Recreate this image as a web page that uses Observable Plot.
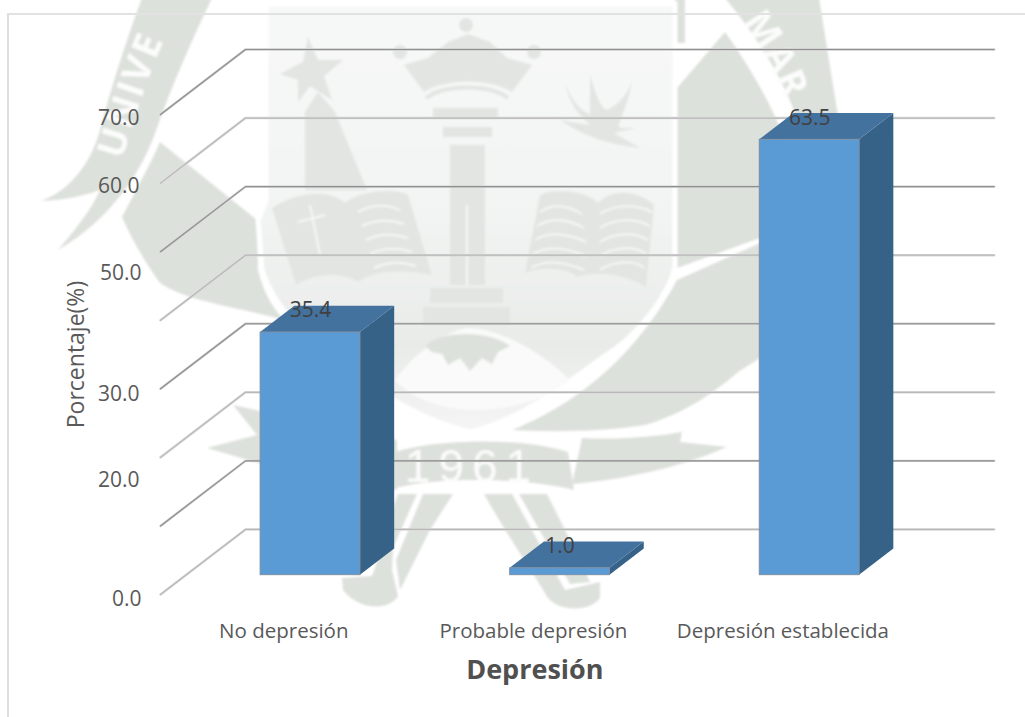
<!DOCTYPE html>
<html lang="es">
<head>
<meta charset="utf-8">
<title>Depresión</title>
<script src="https://cdn.jsdelivr.net/npm/d3@7"></script>
<script src="https://cdn.jsdelivr.net/npm/@observablehq/plot@0.6"></script>
<style>
  html, body { margin: 0; padding: 0; background: #fff; overflow: hidden; }
  #page { position: relative; width: 1025px; height: 717px; overflow: hidden; }
  #seal { position: absolute; left: 0; top: 0; }
  #frame { position: absolute; left: 7px; top: 13px; width: 1100px; height: 800px;
           border-left: 2px solid #dedede; border-top: 2px solid #e2e2e2; }
  #chart { position: absolute; left: 0; top: 0; }
</style>
</head>
<body>
<div id="page">
  <!-- University seal printed behind the chart -->
  <svg id="seal" width="1025" height="717" viewBox="0 0 1025 717">
    <defs>
      <linearGradient id="shieldFill" x1="0" y1="0" x2="0" y2="1">
        <stop offset="0" stop-color="#f7f8f8"/>
        <stop offset="0.5" stop-color="#f2f4f3"/>
        <stop offset="0.8" stop-color="#e9ebe9"/>
        <stop offset="1" stop-color="#f4f5f4"/>
      </linearGradient>
      <filter id="soft"><feGaussianBlur stdDeviation="0.9"/></filter>
      <path id="arcLeft" d="M122 160 C136 112 152 64 172 22 L190 -10"/>
      <path id="arcRight" d="M742 22 C758 42 774 70 788 108 L806 170"/>
    </defs>
    <g filter="url(#soft)">
      <g fill="#dde1db">
        <!-- ribbon bands around the shield -->
        <path d="M41 201 C72 190 92 160 100 130 C112 85 128 35 142 -2 L212 -2 C192 40 172 85 157 128 C142 172 112 218 58 250 C80 224 92 208 100 190 C84 196 64 200 41 201Z"/>
        <path d="M725 -2 L819 -2 C826 40 832 80 838 115 L800 130 C790 90 760 40 725 -2Z"/>
        <rect x="675" y="-2" width="10" height="45"/>
        <!-- side panels -->
        <path d="M160 142 L257 220 L258 270 C264 295 275 312 290 326 L330 350 L277 318 C225 305 185 300 160 283 C145 262 132 240 122 217 C136 190 150 165 160 142Z"/>
        <path d="M677 88 L725 32 C745 60 770 100 785 140 L800 235 L760 238 L677 268Z"/>
        <path d="M677 280 L758 244 L800 240 L760 358 L738 372 C712 395 680 415 645 425 C600 432 550 432 512 430 C600 395 650 330 677 280Z"/>
        <!-- lower ribbon with the year -->
        <path d="M582 438 C620 440 660 436 682 432 L680 442 L727 447 C680 468 620 480 572 484Z"/>
        <path d="M233 405 L257 435 L207 448 L262 464 L397 490 L397 440 L300 420Z"/>
        <path d="M395 452 C430 440 520 436 568 452 L574 490 C530 478 440 476 395 488Z"/>
        <!-- crossed staves and their scrolls -->
        <path d="M398 494 L417 494 L393 548 L392 570 L398 596 C390 610 360 612 343 590 L342 578 L372 576 C382 550 388 520 398 494Z"/>
        <path d="M423 494 L453 494 L430 530 L400 590 L396 560Z"/>
        <path d="M484 494 L512 494 L565 590 L600 582 L600 598 C590 612 560 612 548 598 C528 565 504 530 484 494Z"/>
        <path d="M519 494 L547 494 L580 560 L590 582 L570 584Z"/>
      </g>
      <!-- shield -->
      <path d="M266 4 L675 4 L675 268 C668 295 640 335 602 358 C560 388 520 420 470 432 C420 420 360 385 320 346 C290 322 272 300 262 270 L258 220 L266 200Z" fill="url(#shieldFill)" stroke="#fff" stroke-width="5"/>
      <!-- white hill below the column -->
      <path d="M395 380 C420 345 455 328 470 328 C500 330 540 350 570 380 C520 420 430 420 395 380Z" fill="#f9faf9"/>
      <g fill="#e2e5e2">
        <!-- star and obelisk -->
        <path d="M308 37 L318 60 L343 60 L324 76 L332 100 L310 86 L298 102 L298 80 L280 74 L303 62Z"/>
        <path d="M305 190 L305 112 L318 92 L335 112 L367 190Z"/>
        <!-- open books -->
        <path d="M272 208 C300 190 330 190 345 203 C360 190 395 188 408 195 L432 275 C400 268 370 272 358 282 C340 270 310 275 296 285Z"/>
        <path d="M525 273 C540 266 570 268 577 277 C600 268 640 280 646 288 L654 205 C635 188 610 190 598 203 C585 190 555 188 540 195Z"/>
        <!-- crown and column -->
        <path d="M424 92 C445 78 490 78 512 92 L532 65 L507 58 L490 42 L468 34 L448 42 L428 58 L404 65Z"/>
        <path d="M426 98 C445 84 490 84 508 98" fill="none" stroke="#e2e5e2" stroke-width="4"/>
        <circle cx="466" cy="25" r="7"/><circle cx="400" cy="52" r="7"/><circle cx="534" cy="52" r="7"/>
        <rect x="433" y="108" width="65" height="10"/>
        <rect x="443" y="127" width="49" height="10"/>
        <rect x="450" y="145" width="35" height="140"/>
        <rect x="430" y="288" width="73" height="15"/>
        <rect x="423" y="307" width="87" height="18"/>
        <!-- bird -->
        <path d="M565 82 C572 105 585 112 590 115 L590 75 C596 95 600 108 607 110 C618 105 628 95 632 80 C628 110 615 125 620 128 L636 128 L614 133 L640 148 C615 145 590 140 560 120 C575 122 585 125 590 125 C575 112 568 98 565 82Z"/>
      </g>
      <!-- rays beneath the column -->
      <path d="M425 346 C440 330 490 330 510 346 L498 352 L492 364 L482 358 L470 371 L460 358 L448 365 L442 354 L432 352Z" fill="#dde1db"/>
      <g stroke="#f6f7f6" stroke-width="2" fill="none">
        <path d="M310 205 L320 255 M298 222 L325 215"/>
        <path d="M358 212 C375 203 388 205 400 210 M362 226 C378 218 392 220 404 224 M366 240 C382 232 396 234 408 238 M370 254 C386 246 400 248 412 252 M374 268 C390 260 404 262 416 266"/>
        <path d="M540 212 C552 204 566 204 582 214 M537 226 C550 218 566 218 584 228 M535 240 C548 232 564 232 586 242 M533 254 C546 246 562 246 586 256 M531 268 C544 260 560 260 584 270"/>
        <path d="M600 214 C615 204 636 204 652 212 M600 228 C615 218 636 218 650 226 M600 242 C615 232 636 232 648 240 M600 256 C615 246 636 246 646 254 M600 270 C615 260 636 260 644 268"/>
        <path d="M467 205 L467 285"/>
      </g>
      <g fill="#fbfcfb" font-family="'Open Sans'" font-weight="700">
        <text font-size="38" letter-spacing="2"><textPath href="#arcLeft">UNIVE</textPath></text>
        <text font-size="38" letter-spacing="1"><textPath href="#arcRight">MAR</textPath></text>
        <text x="472" y="482" font-family="'Liberation Sans'" font-size="46" font-weight="400" letter-spacing="8" text-anchor="middle">1961</text>
      </g>
    </g>
  </svg>
  <div id="frame"></div>
  <div id="chart"></div>
</div>
<script>
// Categories and percentages of the depression screening result
const categories = ["No depresión", "Probable depresión", "Depresión establecida"];
const percentages = [35.4, 1.0, 63.5];
const gridValues = [0, 10, 20, 30, 40, 50, 60, 70];
const labelledTicks = [70, 60, 50, 30, 20, 0];

// Oblique projection: one unit of depth moves a point this far along x and y
const depthX = 0.3405;
const depthY = 9.49;
const floorFront = 0.297;   // depth of the bar's front face
const floorBack = 0.7;      // depth of the bar's rear face
const halfBar = 0.2;        // half a bar's width, in category units
const xStart = -0.5;
const xEnd = 2.5;

const px = (i, depth) => i + depth * depthX;
const py = (v, depth) => v + depth * depthY;

const bars = categories.map((name, i) => ({name, i, value: percentages[i]}));

// Each grid line runs along the side wall and then across the back wall
const gridPoints = gridValues.flatMap((tick) => [
  {tick, x: px(xStart, 0), y: py(tick, 0)},
  {tick, x: px(xStart, 1), y: py(tick, 1)},
  {tick, x: px(xEnd, 1), y: py(tick, 1)}
]);
const darkerGrid = gridPoints.filter((d) => d.tick % 20 === 10);
const lighterGrid = gridPoints.filter((d) => d.tick % 20 !== 10);

// Top face of each bar, as an area between a front and a rear edge
const topFace = bars.flatMap((b) => [floorFront, floorBack].map((depth) => ({
  name: b.name,
  x1: px(b.i - halfBar, depth),
  x2: px(b.i + halfBar, depth),
  y: py(b.value, depth)
})));

// Right face of each bar, from its front edge to its rear edge
const sideFace = bars.flatMap((b) => [floorFront, floorBack].map((depth) => ({
  name: b.name,
  x: px(b.i + halfBar, depth),
  y1: py(0, depth),
  y2: py(b.value, depth)
})));

const textFont = "'Open Sans', sans-serif";
const tickColor = "#595959";

// Vertical offsets and padding of the percentage labels beside the wall
const labelDrop = {70: 3.5, 60: 3.5, 50: 22, 30: 5.5, 20: 22.5, 0: 4.5};
const labelPad = {70: 21, 60: 21, 50: 19, 30: 21, 20: 21, 0: 19};

const gridStroke = (data, stroke, strokeWidth) =>
  Plot.line(data, {x: "x", y: "y", z: "tick", stroke, strokeWidth, strokeLinejoin: "round"});

const chart = Plot.plot({
  width: 1025,
  height: 717,
  marginLeft: 160,
  marginRight: 31.3,
  marginTop: 49,
  marginBottom: 123,
  style: {background: "transparent", fontFamily: textFont},
  x: {type: "linear", domain: [xStart, px(xEnd, 1)], axis: null},
  y: {domain: [0, py(70, 1)], axis: null},
  marks: [
    gridStroke(lighterGrid, "#dadada", 2.6),
    gridStroke(lighterGrid, "#b8b8b8", 1.2),
    gridStroke(darkerGrid, "#cfcfcf", 2.4),
    gridStroke(darkerGrid, "#8f8f8f", 1.2),
    Plot.area(sideFace, {x1: "x", x2: "x", y1: "y1", y2: "y2", z: "name", fill: "#376287"}),
    Plot.area(topFace, {x1: "x1", x2: "x2", y1: "y", y2: "y", z: "name", fill: "#44729f"}),
    Plot.rect(bars, {
      x1: (d) => px(d.i - halfBar, floorFront),
      x2: (d) => px(d.i + halfBar, floorFront),
      y1: () => py(0, floorFront),
      y2: (d) => py(d.value, floorFront),
      fill: "#5b9bd5",
      stroke: "#7d8fa3",
      strokeWidth: 1
    }),
    Plot.text(bars, {
      x: (d) => px(d.i, floorFront),
      y: (d) => py(d.value, floorFront),
      text: (d) => d.value.toFixed(1),
      dy: -22,
      fontSize: 21,
      fill: "#404040"
    }),
    ...labelledTicks.map((tick) => Plot.axisY([tick], {
      anchor: "left",
      tickSize: 0,
      tickPadding: labelPad[tick],
      tickFormat: (d) => d.toFixed(1),
      fontSize: 21,
      fill: tickColor,
      dy: labelDrop[tick],
      label: null
    })),
    Plot.axisX(categories.map((_, i) => i), {
      anchor: "bottom",
      tickSize: 0,
      tickPadding: 29,
      tickFormat: (i) => categories[i],
      fontSize: 20.5,
      fill: tickColor,
      dx: -1.5,
      label: null
    }),
    Plot.text(["Depresión"], {
      x: () => 1,
      y: () => 0,
      text: (d) => d,
      dy: 76,
      fontSize: 27,
      fontWeight: 700,
      fill: "#505050"
    }),
    Plot.text(["Porcentaje(%)"], {
      x: () => xStart,
      y: () => 35,
      text: (d) => d,
      dx: -84,
      rotate: -90,
      fontSize: 23,
      fill: tickColor
    })
  ]
});
document.getElementById("chart").append(chart);
</script>
</body>
</html>
